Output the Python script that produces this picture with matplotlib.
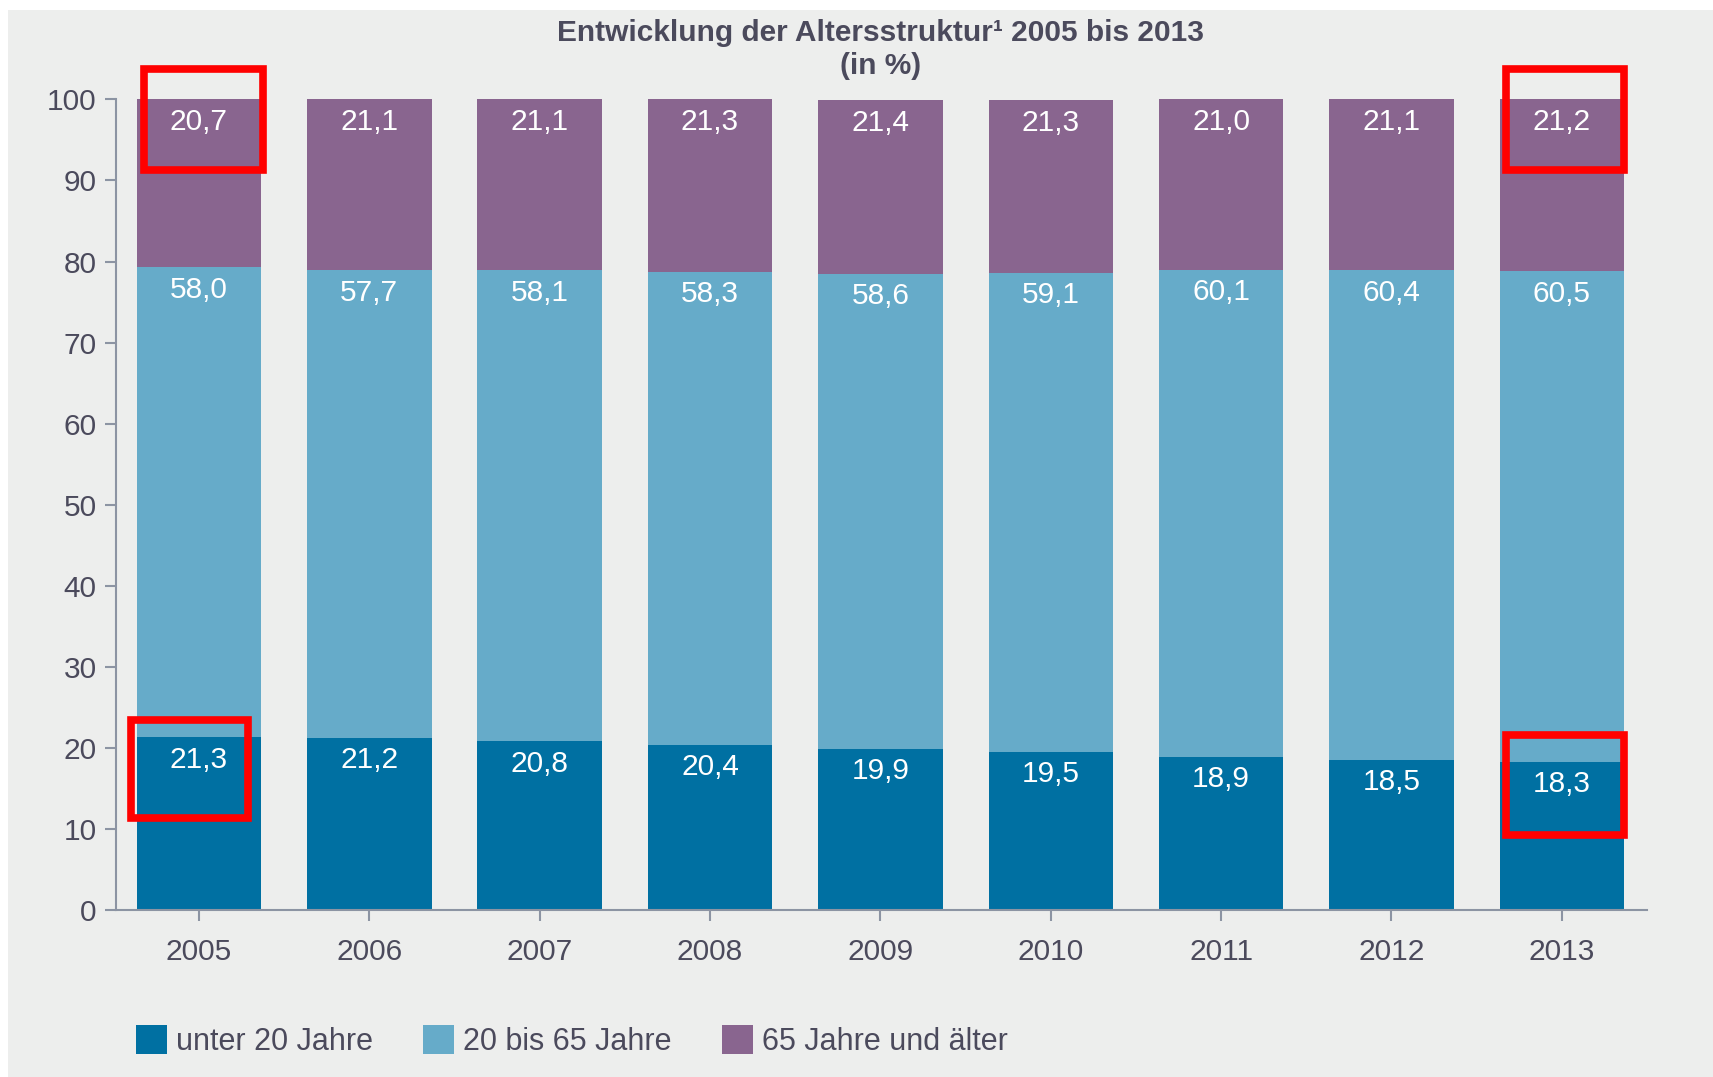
import matplotlib.pyplot as plt
from matplotlib.patches import Rectangle
import numpy as np

plt.rcParams['font.family'] = ['Liberation Sans', 'DejaVu Sans']

# Data: share of age groups (in %)
years = ['2005', '2006', '2007', '2008', '2009', '2010', '2011', '2012', '2013']
unter_20 = [21.3, 21.2, 20.8, 20.4, 19.9, 19.5, 18.9, 18.5, 18.3]
von_20_bis_65 = [58.0, 57.7, 58.1, 58.3, 58.6, 59.1, 60.1, 60.4, 60.5]
ab_65 = [20.7, 21.1, 21.1, 21.3, 21.4, 21.3, 21.0, 21.1, 21.2]
series_names = ['unter 20 Jahre', '20 bis 65 Jahre', '65 Jahre und älter']

colors = ['#0070a2', '#66abc9', '#89658f']
bg = '#edeeed'
text_col = '#4b4a5c'
axis_col = '#8c94a3'

# red boxes drawn around some labels: (year index, series index,
# left/right offset from bar centre, extent above/below the segment top)
highlights = [(0, 2, -0.32, 0.375, 3.8, 8.7),
              (0, 0, -0.40, 0.285, 2.2, 10.0),
              (8, 2, -0.33, 0.365, 3.8, 8.7),
              (8, 0, -0.33, 0.365, 3.3, 9.1)]

W, H = 1713, 1077
fig = plt.figure(figsize=(W / 100, H / 100), dpi=100, facecolor=bg)
# thin white margin at top and left
fig.patches.append(Rectangle((0, 1 - 10 / H), 1, 10 / H, transform=fig.transFigure,
                             facecolor='white', edgecolor='none'))
fig.patches.append(Rectangle((0, 0), 8 / W, 1, transform=fig.transFigure,
                             facecolor='white', edgecolor='none'))

ax = fig.add_axes([116 / W, 167 / H, (1647 - 116) / W, (910 - 99.4) / H])
ax.patch.set_alpha(0)

x = np.arange(len(years))
width = 0.73
bottom = np.zeros(len(years))
tops = []
for vals, name, c in zip([unter_20, von_20_bis_65, ab_65], series_names, colors):
    vals = np.array(vals)
    ax.bar(x, vals, width, bottom=bottom, color=c, label=name, edgecolor='none')
    top = bottom + vals
    tops.append(top)
    for xi, v, t in zip(x, vals, top):
        ax.annotate(f'{v:.1f}'.replace('.', ','), (xi, t), xytext=(0, -6),
                    textcoords='offset points', ha='center', va='top',
                    color='white', fontsize=21.5)
    bottom = top

for i, s, xl, xr, up, down in highlights:
    t = tops[s][i]
    ax.add_patch(Rectangle((x[i] + xl, t - down), xr - xl, up + down, fill=False,
                           edgecolor='#ff0000', linewidth=5.5, clip_on=False, zorder=5))

ax.set_xlim(-0.487, 8.5)
ax.set_ylim(0, 100)
ax.set_yticks(range(0, 101, 10))
ax.set_xticks(x)
ax.set_xticklabels(years)
for sp in ['top', 'right']:
    ax.spines[sp].set_visible(False)
for sp in ['left', 'bottom']:
    ax.spines[sp].set_color(axis_col)
    ax.spines[sp].set_linewidth(1.5)
ax.tick_params(axis='both', colors=axis_col, length=8, width=1.5, labelsize=21.5,
               labelcolor=text_col)
ax.tick_params(axis='y', pad=6)
ax.tick_params(axis='x', pad=12)

fig.text(0.514, 1 - 33 / H, 'Entwicklung der Altersstruktur¹ 2005 bis 2013',
         ha='center', va='center', fontsize=21.5, fontweight='bold', color=text_col)
fig.text(0.514, 1 - 66 / H, '(in %)', ha='center', va='center',
         fontsize=21.5, fontweight='bold', color=text_col)

leg = fig.legend(loc='center left', bbox_to_anchor=(124 / W, 1 - 1041 / H), ncol=3,
                 frameon=False, fontsize=22, handlelength=1.0, handleheight=1.1,
                 handletextpad=0.3, columnspacing=1.65, borderaxespad=0)
for t in leg.get_texts():
    t.set_color(text_col)

fig.savefig('out.png', dpi=100, facecolor=fig.get_facecolor())
